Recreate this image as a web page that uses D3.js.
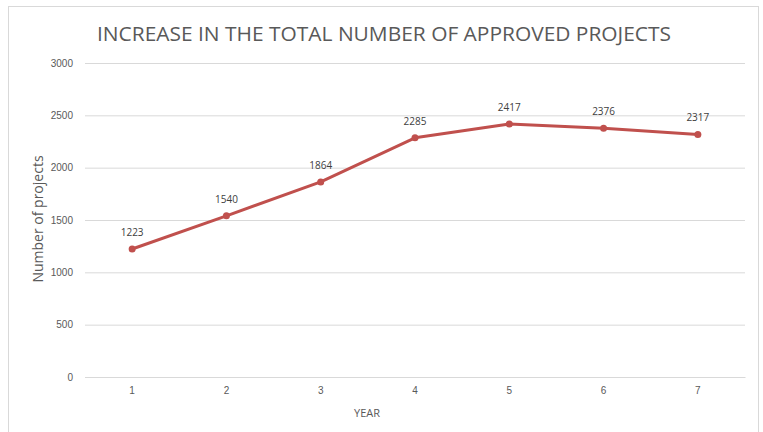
<!DOCTYPE html>
<html><head><meta charset="utf-8">
<script src="https://cdn.jsdelivr.net/npm/d3@7"></script>
<style>body{margin:0;background:#fff;}svg{display:block;font-family:"Open Sans",sans-serif;}</style>
</head><body>
<svg id="c" width="763" height="432"></svg>
<script>
const years = ["1","2","3","4","5","6","7"];
const projects = [1223, 1540, 1864, 2285, 2417, 2376, 2317];
const yTicks = [0, 500, 1000, 1500, 2000, 2500, 3000];
const titleText = "INCREASE IN THE TOTAL NUMBER OF APPROVED PROJECTS";

const svg = d3.select("#c");
const m = {left: 85, right: 745, top: 63, bottom: 377};
const txt = "#595959";

svg.append("rect").attr("x", 8.5).attr("y", 6.5).attr("width", 750).attr("height", 440)
  .attr("fill", "#fff").attr("stroke", "#d9d9d9").attr("stroke-width", 1);

const x = d3.scaleBand().domain(years).range([m.left, m.right]);
const y = d3.scaleLinear().domain([0, 3000]).range([m.bottom, m.top]);

const yAxis = d3.axisLeft(y).tickValues(yTicks).tickFormat(d3.format("d"))
  .tickSize(-(m.right - m.left)).tickPadding(12);
const gy = svg.append("g").attr("transform", `translate(${m.left},0)`).call(yAxis);
gy.select(".domain").remove();
gy.selectAll("line").attr("stroke", "#d9d9d9").attr("stroke-width", 1);
gy.selectAll("text").attr("fill", txt).attr("font-size", "10px");

const xAxis = d3.axisBottom(x).tickSize(0).tickPadding(10);
const gx = svg.append("g").attr("transform", `translate(0,${m.bottom})`).call(xAxis);
gx.select(".domain").attr("stroke", "#d9d9d9");
gx.selectAll("text").attr("fill", txt).attr("font-size", "10px");

const cx = d => x(d) + x.bandwidth() / 2;
const line = d3.line().x((d, i) => cx(years[i])).y(d => y(d));
svg.append("path").datum(projects).attr("d", line)
  .attr("fill", "none").attr("stroke", "#C0504D").attr("stroke-width", 3).attr("stroke-linejoin", "round");

svg.selectAll("circle.pt").data(projects).join("circle")
  .attr("cx", (d, i) => cx(years[i])).attr("cy", d => y(d)).attr("r", 3.5).attr("fill", "#C0504D");

svg.selectAll("text.lbl").data(projects).join("text").attr("class", "lbl")
  .attr("x", (d, i) => cx(years[i])).attr("y", d => y(d) - 13)
  .attr("text-anchor", "middle").attr("font-size", "10px").attr("fill", "#404040").text(d => d);

svg.append("text").attr("x", 384).attr("y", 41).attr("text-anchor", "middle")
  .attr("font-size", "20px").attr("fill", txt).attr("textLength", 574).attr("lengthAdjust", "spacingAndGlyphs")
  .text(titleText);

svg.append("text").attr("x", 367).attr("y", 417).attr("text-anchor", "middle")
  .attr("font-size", "11px").attr("fill", txt).text("YEAR");

svg.append("text").attr("transform", "translate(43,219) rotate(-90)").attr("text-anchor", "middle")
  .attr("font-size", "14px").attr("fill", txt).text("Number of projects");
</script>
</body></html>
